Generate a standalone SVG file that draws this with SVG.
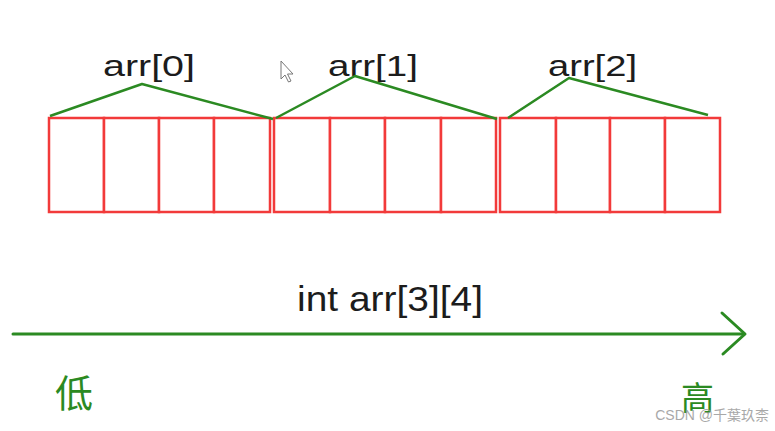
<svg xmlns="http://www.w3.org/2000/svg" width="775" height="431" viewBox="0 0 775 431">
<style>
.cell{fill:#fff;stroke:#f23a3a;stroke-width:2.5}
.brace{fill:none;stroke:#2b8a22;stroke-width:2.5;stroke-linejoin:round}
.lbl{font-family:"Liberation Sans",Arial,sans-serif;fill:#1c1c1c}
.cjk{font-family:"Noto Sans CJK SC",sans-serif;fill:#2b8a22}
.axis{fill:none;stroke:#2b8a22;stroke-width:3;stroke-linecap:round;stroke-linejoin:round}
</style>
<rect width="775" height="431" fill="#fff"/>
<g id="row0">
<rect class="cell" x="49" y="118" width="55" height="94"/>
<rect class="cell" x="104" y="118" width="55" height="94"/>
<rect class="cell" x="159" y="118" width="55" height="94"/>
<rect class="cell" x="214" y="118" width="56" height="94"/>
</g>
<g id="row1">
<rect class="cell" x="274" y="118" width="56" height="94"/>
<rect class="cell" x="330" y="118" width="55" height="94"/>
<rect class="cell" x="385" y="118" width="56" height="94"/>
<rect class="cell" x="441" y="118" width="55" height="94"/>
</g>
<g id="row2">
<rect class="cell" x="500" y="118" width="56" height="94"/>
<rect class="cell" x="556" y="118" width="54" height="94"/>
<rect class="cell" x="610" y="118" width="55" height="94"/>
<rect class="cell" x="665" y="118" width="55" height="94"/>
</g>
<g id="label0"><text class="lbl" x="103" y="76" font-size="30" textLength="92" lengthAdjust="spacingAndGlyphs">arr[0]</text></g>
<g id="label1"><text class="lbl" x="328" y="76" font-size="30" textLength="90" lengthAdjust="spacingAndGlyphs">arr[1]</text></g>
<g id="label2"><text class="lbl" x="548" y="76" font-size="30" textLength="89" lengthAdjust="spacingAndGlyphs">arr[2]</text></g>
<g id="connectors">
<polyline class="brace" points="50,116 142,84 273,119"/>
<polyline class="brace" points="276,118 355,76 497,119"/>
<polyline class="brace" points="508,118 569,78 708,115"/>
</g>
<g id="title"><text class="lbl" x="297" y="311" font-size="35" textLength="186" lengthAdjust="spacingAndGlyphs">int arr[3][4]</text></g>
<g id="axis">
<line class="axis" x1="13" y1="334" x2="744" y2="334"/>
<polyline class="axis" points="722,313 745,334 723,354"/>
</g>
<g id="low"><text class="cjk" x="55" y="407" font-size="38">低</text></g>
<g id="high"><text class="cjk" x="681" y="410" font-size="33">高</text></g>
<g id="cursor"><path d="M281,61 L281,79 L285,75 L288.5,82 L291,81 L287.5,74 L293,74 Z" fill="#fff" stroke="#777" stroke-width="1"/></g>
<text x="769" y="420" text-anchor="end" font-family="'Liberation Sans','Noto Sans CJK SC',sans-serif" font-size="14" fill="#9a9a9a" opacity="0.85">CSDN @千葉玖柰</text>
</svg>
